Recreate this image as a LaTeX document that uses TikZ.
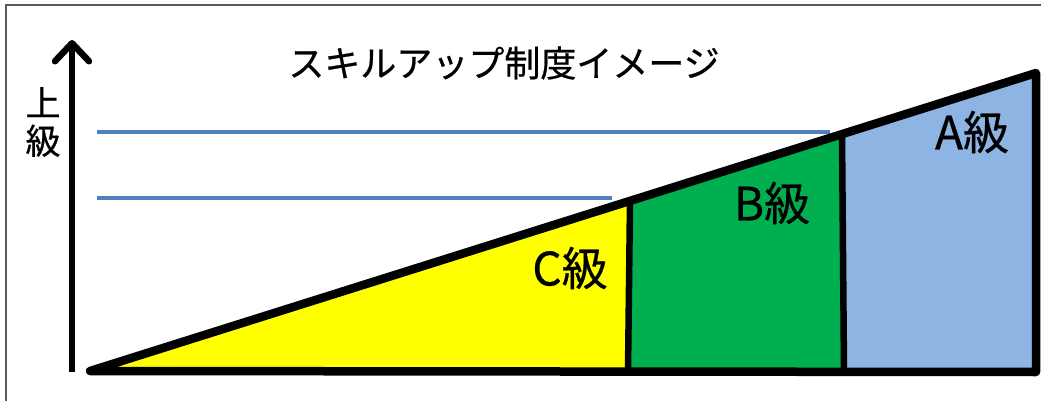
\documentclass[tikz,border=0pt]{standalone}
\usepackage{fontspec}
\setmainfont[FakeBold=0.6]{Noto Sans CJK JP}
\usetikzlibrary{arrows.meta}
\definecolor{lvC}{HTML}{FFFF00}
\definecolor{lvB}{HTML}{00B050}
\definecolor{lvA}{HTML}{8EB4E3}
\definecolor{guide}{HTML}{4F81BD}
\definecolor{framec}{HTML}{595959}
\tikzset{
  outline/.style={draw=black, line width=8.5, line join=round, line cap=round},
  divider/.style={draw=black, line width=6.5},
  guideline/.style={draw=guide, line width=3.2},
  lbl/.style={inner sep=0, font=\fontsize{46}{50}\selectfont},
  axislbl/.style={inner sep=0, font=\fontsize{35}{38}\selectfont, align=center},
}
\begin{document}
\begin{tikzpicture}[x=1pt,y=-1pt]
\useasboundingbox (0,0) rectangle (1041,401);
\draw[framec, line width=2] (6,401) -- (6,5) -- (1041,5);
% coordinates
\coordinate (O) at (90,371);
\coordinate (P1) at (630,201.5);
\coordinate (Q1) at (628,371);
\coordinate (P2) at (842,134.5);
\coordinate (Q2) at (844,371.5);
\coordinate (P3) at (1036,73);
\coordinate (Q3) at (1036,372);
\coordinate (g1a) at (97,132);
\coordinate (g1b) at (830,132);
\coordinate (g2a) at (97,198);
\coordinate (g2b) at (612,198);
\coordinate (axb) at (72,372);
\coordinate (axt) at (72,40);
% guide lines
\draw[guideline] (g1a) -- (g1b);
\draw[guideline] (g2a) -- (g2b);
% fills
\fill[lvC] (O) -- (P1) -- (Q1) -- cycle;
\fill[lvB] (Q1) -- (P1) -- (P2) -- (Q2) -- cycle;
\fill[lvA] (Q2) -- (P2) -- (P3) -- (Q3) -- cycle;
\draw[divider] (P1) -- (Q1);
\draw[divider] (P2) -- (Q2);
\draw[outline] (O) -- (P3) -- (Q3) -- cycle;
% axis arrow
\draw[line width=6.5, -{Straight Barb[length=18pt, width=34pt, line width=6.5, round]}] (axb) -- (axt);
% labels
\node[inner sep=0, font=\fontsize{36}{40}\selectfont] (title) at (504,63) {スキルアップ制度イメージ};
\node[axislbl] (up) at (43,122) {上\\級};
\node[lbl] (C) at (570,268) {C級};
\node[lbl] (B) at (772,203) {B級};
\node[lbl] (A) at (972,132) {A級};
\end{tikzpicture}
\end{document}
